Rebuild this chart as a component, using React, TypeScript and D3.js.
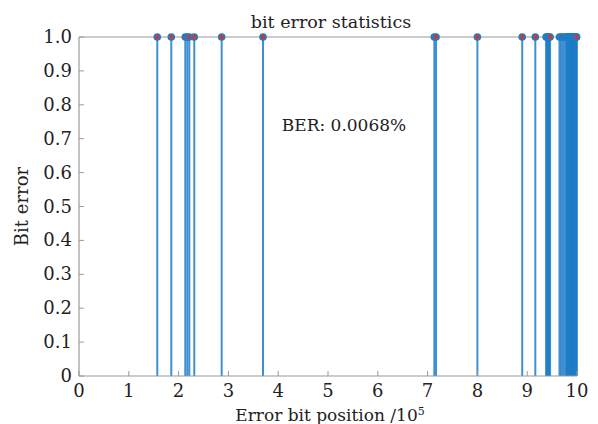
import React from "react";
import * as d3 from "d3";

const errorPositions: number[] = [
  1.572, 1.853, 2.134, 2.175, 2.215, 2.315, 2.865, 3.695,
  7.135, 7.17, 8.0, 8.9, 9.163,
  9.38, 9.395, 9.41, 9.425, 9.44, 9.46,
  9.648, 9.679, 9.719, 9.759, 9.793,
  9.80, 9.808, 9.815, 9.822, 9.83, 9.836, 9.843, 9.851, 9.858, 9.866,
  9.872, 9.879, 9.887, 9.894, 9.902, 9.909, 9.916, 9.923, 9.931, 9.938,
  9.945, 9.952, 9.96, 9.966, 9.973, 9.98, 9.987, 9.993,
];
const errorValues: number[] = errorPositions.map(() => 1);
const xTicks: number[] = [0, 1, 2, 3, 4, 5, 6, 7, 8, 9, 10];
const yTicks: number[] = [0, 0.1, 0.2, 0.3, 0.4, 0.5, 0.6, 0.7, 0.8, 0.9, 1.0];
const titleText = "bit error statistics";
const xLabelText = "Error bit position /10";
const yLabelText = "Bit error";
const berText = "BER: 0.0068%";

const W = 598, H = 424;
const L = 79, R = 577, T = 37, B = 376;
const FONT = "DejaVu Serif";
const STEM = "#1f7dc8";

export default function App() {
  const x = d3.scaleLinear().domain([0, 10]).range([L, R]);
  const y = d3.scaleLinear().domain([0, 1]).range([B, T]);
  const axisColor = "#9a9a9a";
  return (
    <svg width={W} height={H} style={{ position: "absolute", left: 0, top: 0, background: "#fff" }}
      fontFamily={FONT}>
      <line x1={L} x2={R} y1={T} y2={T} stroke={axisColor} strokeWidth={1.2} />
      <line x1={R} x2={R} y1={T} y2={B} stroke={axisColor} strokeWidth={1.2} />
      {errorPositions.map((p, i) => (
        <line key={"s" + i} x1={x(p)} x2={x(p)} y1={y(0)} y2={y(errorValues[i])}
          stroke={STEM} strokeWidth={2} strokeOpacity={0.85} />
      ))}
      {errorPositions.map((p, i) => (
        <circle key={"m" + i} cx={x(p)} cy={y(errorValues[i])} r={3}
          fill="#d9342b" stroke={STEM} strokeWidth={1.6} />
      ))}
      <line x1={L} x2={R} y1={B} y2={B} stroke={axisColor} strokeWidth={1.2} />
      <line x1={L} x2={L} y1={T} y2={B} stroke={axisColor} strokeWidth={1.2} />
      {xTicks.map((t) => (
        <g key={"xt" + t}>
          <line x1={x(t)} x2={x(t)} y1={B} y2={B - 5} stroke={axisColor} strokeWidth={1} />
          <text x={x(t)} y={B + 21} fontSize={18} textAnchor="middle" fill="#222">{t}</text>
        </g>
      ))}
      {yTicks.map((t) => (
        <g key={"yt" + t}>
          <line x1={L} x2={L + 5} y1={y(t)} y2={y(t)} stroke={axisColor} strokeWidth={1} />
          <text x={L - 7} y={y(t) + 6} fontSize={18} textAnchor="end" fill="#222">
            {t === 0 ? "0" : t.toFixed(1)}
          </text>
        </g>
      ))}
      <text x={331} y={28} fontSize={17.5} textAnchor="middle" fill="#222">{titleText}</text>
      <text x={344} y={131} fontSize={17} textAnchor="middle" fill="#222">{berText}</text>
      <text x={330} y={421} fontSize={17} textAnchor="middle" fill="#222">
        {xLabelText}<tspan dy={-6} fontSize={11}>5</tspan>
      </text>
      <text transform={`translate(28,${(T + B) / 2}) rotate(-90)`} fontSize={18}
        textAnchor="middle" fill="#222">{yLabelText}</text>
    </svg>
  );
}
